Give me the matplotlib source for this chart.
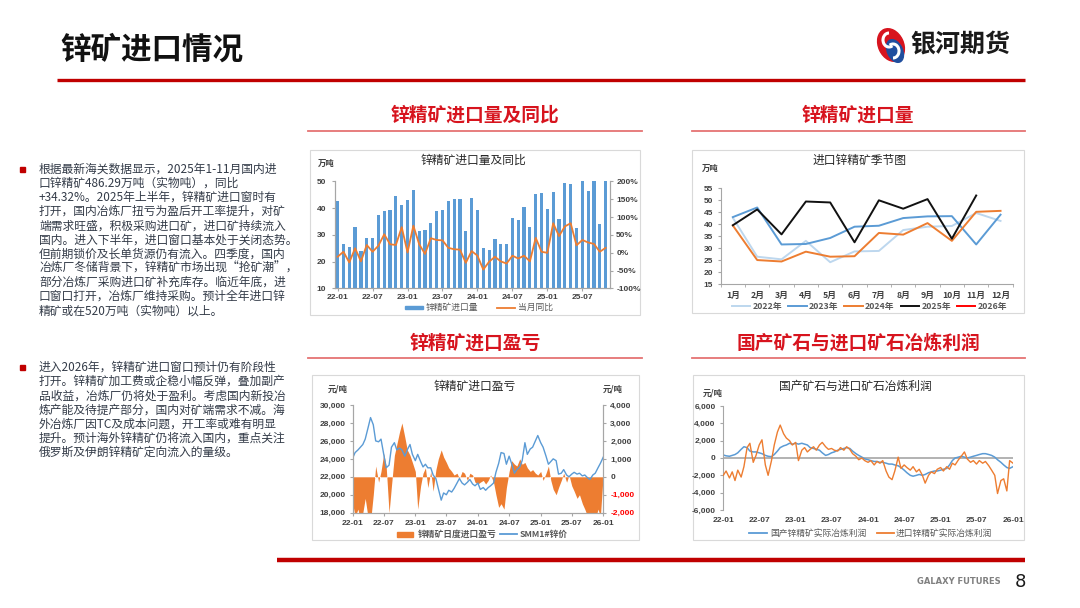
import pandas as pd
import matplotlib
matplotlib.use('Agg')
import matplotlib.pyplot as plt
from matplotlib.patches import Rectangle, Ellipse, Arc
from matplotlib.ticker import FuncFormatter

plt.rcParams['font.family'] = ['Noto Sans CJK SC', 'DejaVu Sans']
plt.rcParams['axes.unicode_minus'] = False

# ---- chart 1 / chart 2 data: monthly zinc concentrate imports (10k t) ----
imports_2022 = [42.7, 26.5, 25.4, 33.1, 24.2, 28.7, 28.9, 37.6, 39.0, 39.3, 44.7, 41.4]
imports_2023 = [43.0, 47.0, 31.6, 31.8, 34.3, 39.0, 39.4, 42.6, 43.3, 43.4, 31.6, 44.0]
imports_2024 = [39.5, 25.1, 24.5, 28.6, 26.5, 26.7, 36.4, 35.7, 40.5, 33.1, 45.2, 45.6]
imports_2025 = [39.6, 46.2, 35.8, 49.5, 49.1, 32.5, 50.0, 46.5, 50.5, 34.0, 52.0]
imports_2026 = []

# year-on-year change (%), 22-01 .. 25-11
yoy = [-11, 3, -27, 13, -24, 22, 3, 20, 52, 24, 22, 72,
       1, 76, 24, -3, 41, 36, 35, 14, 10, 9, -28, 5,
       -8, -47, -25, -11, -24, -30, -8, -16, -8, -24, 42, 3,
       0, 83, 47, 74, 83, 21, 36, 29, 25, 3, 14]

month_ticks1 = ['22-01', '22-07', '23-01', '23-07', '24-01', '24-07', '25-01', '25-07']
season_months = ['1月', '2月', '3月', '4月', '5月', '6月', '7月', '8月', '9月', '10月', '11月', '12月']

# ---- chart 3 / chart 4 data: semi-monthly readings 2022-01-01 .. 2026-01-01 ----
zinc_price = [24100, 24700, 25000, 25300, 25600, 26200, 27500, 28600, 27800, 26000,
              25900, 26200, 24500, 23000, 23300, 25300, 25800, 25000, 25200, 25000,
              24300, 25000, 25600, 24500, 23800, 24500, 23700, 23100, 23400, 23000,
              23000, 22200, 21800, 20700, 19400, 20200, 20000, 20500, 20300, 20700,
              21300, 21800, 21300, 21100, 21400, 21700, 21200, 21000, 21300, 20600,
              20800, 20500, 20800, 21000, 21300, 22500, 23500, 24700, 24600, 23400,
              24300, 23500, 22400, 22800, 23100, 23800, 25800, 24500, 25100, 25300,
              26000, 26600, 25800, 25300, 24300, 23400, 23700, 24000, 23800, 22300,
              22400, 22800, 22200, 22000, 22300, 22500, 22300, 22400, 22100, 22200,
              21900, 21700, 22200, 22400, 23000, 23500, 24200]

import_margin = [-1500, -2200, -1800, -2500, -2000, -1200, -2300, -2500, -1000, 600,
                 -300, 300, 1300, 600, -2000, -500, 1200, 1800, 2500, 3000,
                 2200, 1500, 1200, 800, 300, -1800, -500, 200, 500, -600,
                 300, -800, 400, 1000, 1500, 1100, 800, 500, 300, 100,
                 200, -100, 300, 200, -200, 200, 100, -300, -400, -300,
                 -200, -400, -200, 100, -300, -1000, -1700, -1500, -1800, -600,
                 300, 900, 700, 600, 1000, 700, 800, 500, 300, 400,
                 200, 100, 300, -200, 200, 600, -200, -700, -1000, -600,
                 -200, 200, -300, 100, -500, -800, -1200, -1000, -1500, -1800,
                 -2200, -2500, -2000, -2400, -1800, -2200, 200]

domestic_profit = [350, 250, 200, 300, 400, 600, 1000, 1300, 1200, 800,
                   700, 700, 600, 500, 300, 200, 150, 400, 800, 1200,
                   1400, 1500, 1700, 1600, 1700, 1600, 1700, 1600, 1500, 1200,
                   1100, 1000, 900, 600, 300, 400, 600, 700, 900, 1000,
                   1100, 1200, 1100, 800, 500, 300, 100, -100, -200, -300,
                   -400, -400, -500, -500, -600, -700, -700, -800, -900, -1100,
                   -1400, -1700, -2000, -2100, -2000, -1900, -2000, -1900, -1700, -1600,
                   -1500, -1500, -1400, -1300, -1200, -800, -300, 0, 100, 200,
                   100, 0, 100, 200, 300, 400, 500, 500, 400, 300,
                   100, -200, -500, -800, -1100, -1200, -1000]

import_profit = [-2000, -1500, -2300, -1600, -2600, -1400, -2200, -1000, 1200, 1700,
                 -500, 300, 1500, 2100, -800, -2000, -300, 1500, 3000, 3800,
                 2800, 2300, 2000, 1500, 1800, -300, 900, 1200, 700, 1000,
                 1300, 900, 1500, 1800, 1300, 1000, 1100, 900, 800, 1200,
                 900, 1300, 1000, 500, 200, -200, 0, -300, -500, -300,
                 -800, -400, -600, -300, -1500, -2200, -2500, -1500, 100, -1200,
                 -800, -1100, -1400, -1000, -1600, -1300, -2000, -2900, -2000, -1600,
                 -1800, -1300, -1100, -1500, -1000, -1300, -600, -800, -200, 200,
                 700, -100, -500, -300, -700, -300, -600, -400, -900, -1400,
                 -2000, -4100, -2600, -2400, -3800, -300, -600]

date_ticks = ['2022-01-01', '2022-07-01', '2023-01-01', '2023-07-01', '2024-01-01',
              '2024-07-01', '2025-01-01', '2025-07-01', '2026-01-01']

BLUE = '#5B9BD5'
ORANGE = '#ED7D31'
RED = '#D7141E'
AXC = '#A6A6A6'
NUM = 'Liberation Sans'

W, H = 1080, 608
fig = plt.figure(figsize=(10.8, 6.08), dpi=100)
bg = fig.add_axes([0, 0, 1, 1], zorder=-5)
bg.set_xlim(0, W)
bg.set_ylim(H, 0)
bg.axis('off')


def add_ax(l, t, r, b):
    return fig.add_axes([l / W, 1 - b / H, (r - l) / W, (b - t) / H])


def num_labels(ax, axis='both'):
    lbls = []
    if axis in ('both', 'x'):
        lbls += ax.get_xticklabels()
    if axis in ('both', 'y'):
        lbls += ax.get_yticklabels()
    for l in lbls:
        l.set_fontfamily(NUM)
        l.set_fontweight('bold')
        l.set_fontsize(6)
        l.set_color('#404040')


def spines(ax, show):
    for s in ['left', 'right', 'top', 'bottom']:
        ax.spines[s].set_visible(s in show)
        ax.spines[s].set_color(AXC)
        ax.spines[s].set_linewidth(0.8)


# ---------------- page frame ----------------
bg.text(60, 50, '锌矿进口情况', fontsize=22, fontweight='bold', color='#111111', ha='left', va='center')
bg.plot([57, 1025], [80, 80], color='#C00000', lw=2.4, solid_capstyle='butt')

# logo
bg.add_patch(Ellipse((891, 45), 25, 34, angle=-25, color='#D7141E'))
bg.add_patch(Ellipse((895, 51), 15, 24, angle=-25, color='#1F4E9E'))
bg.add_patch(Arc((889, 40), 12, 14, angle=0, theta1=60, theta2=270, color='white', lw=2.2))
bg.add_patch(Arc((893, 51), 12, 14, angle=0, theta1=240, theta2=450, color='white', lw=2.2))
bg.text(910, 45, '银河期货', fontsize=18, fontweight='bold', color='#1a1a1a', ha='left', va='center')

# section headers
for cx, cy, s in [(475, 115, '锌精矿进口量及同比'), (858, 115, '锌精矿进口量'),
                  (475, 343, '锌精矿进口盈亏'), (858, 343, '国产矿石与进口矿石冶炼利润')]:
    bg.text(cx, cy, s, fontsize=13.5, fontweight='bold', color=RED, ha='center', va='center')
for y in [131, 358]:
    bg.plot([308, 642], [y, y], color='#E57373', lw=1.3)
    bg.plot([692, 1025], [y, y], color='#E57373', lw=1.3)

# chart frames
for l, t, r, b in [(310, 150, 640, 315), (692, 150, 1024, 313), (312, 375, 639, 540), (693, 375, 1024, 540)]:
    bg.add_patch(Rectangle((l, t), r - l, b - t, fill=False, edgecolor='#D9D9D9', lw=0.8))

# left text
para1 = ['根据最新海关数据显示，2025年1-11月国内进',
         '口锌精矿486.29万吨（实物吨），同比',
         '+34.32%。2025年上半年，锌精矿进口窗时有',
         '打开，国内冶炼厂扭亏为盈后开工率提升，对矿',
         '端需求旺盛，积极采购进口矿，进口矿持续流入',
         '国内。进入下半年，进口窗口基本处于关闭态势。',
         '但前期锁价及长单货源仍有流入。四季度，国内',
         '冶炼厂冬储背景下，锌精矿市场出现“抢矿潮”，',
         '部分冶炼厂采购进口矿补充库存。临近年底，进',
         '口窗口打开，冶炼厂维持采购。预计全年进口锌',
         '精矿或在520万吨（实物吨）以上。']
para2 = ['进入2026年，锌精矿进口窗口预计仍有阶段性',
         '打开。锌精矿加工费或企稳小幅反弹，叠加副产',
         '品收益，冶炼厂仍将处于盈利。考虑国内新投冶',
         '炼产能及待提产部分，国内对矿端需求不减。海',
         '外冶炼厂因TC及成本问题，开工率或难有明显',
         '提升。预计海外锌精矿仍将流入国内，重点关注',
         '俄罗斯及伊朗锌精矿定向流入的量级。']
for y0, lines in [(169, para1), (367.3, para2)]:
    bg.add_patch(Rectangle((20, y0 - 2.5), 5, 5, color='#C00000'))
    for i, s in enumerate(lines):
        bg.text(39, y0 + i * 14.17, s, fontsize=8.5, color='#333B48', ha='left', va='center')

# footer
bg.plot([277, 1025], [560, 560], color='#C00000', lw=3.2, solid_capstyle='butt')
bg.text(959, 582, 'GALAXY FUTURES', fontsize=6, fontweight='bold', color='#808080', ha='center', va='center',
        family='DejaVu Sans')
bg.text(1020, 582, '8', fontsize=13, color='#1a1a1a', ha='center', va='center', family='DejaVu Sans')

# ---------------- chart 1: imports + yoy ----------------
imports = imports_2022 + imports_2023 + imports_2024 + imports_2025
x1 = list(range(len(imports)))
ax1 = add_ax(335, 181.5, 610, 288.5)
ax1.bar(x1, imports, width=0.55, color=BLUE, zorder=2)
ax1.set_ylim(10, 50)
ax1.set_yticks([10, 20, 30, 40, 50])
ax1.set_xlim(-0.45, 46.75)
ax1.set_xticks(range(0, 48, 6))
ax1.set_xticklabels(month_ticks1)
spines(ax1, ['left', 'bottom', 'right'])
ax1.tick_params(axis='y', length=2.5, color=AXC, pad=4)
ax1.tick_params(axis='x', length=2.5, color=AXC, pad=1.5)
num_labels(ax1)
ax1r = ax1.twinx()
ax1r.plot(x1, yoy, color=ORANGE, lw=1.3, zorder=3)
ax1r.set_ylim(-100, 200)
ax1r.set_yticks(range(-100, 201, 50))
ax1r.yaxis.set_major_formatter(FuncFormatter(lambda v, p: f'{v:.0f}%'))
spines(ax1r, ['left', 'bottom', 'right'])
ax1r.tick_params(axis='y', length=2.5, color=AXC, pad=2)
num_labels(ax1r, 'y')
bg.text(473, 160, '锌精矿进口量及同比', fontsize=8.5, color='#262626', ha='center', va='center')
bg.text(326, 163, '万吨', fontsize=6, fontweight='bold', color='#404040', ha='center', va='center')
bg.add_patch(Rectangle((405, 306), 18, 3, color=BLUE))
bg.text(426, 307.5, '锌精矿进口量', fontsize=6.3, color='#595959', ha='left', va='center')
bg.plot([497, 515], [307.5, 307.5], color=ORANGE, lw=1.3)
bg.text(518, 307.5, '当月同比', fontsize=6.3, color='#595959', ha='left', va='center')

# ---------------- chart 2: seasonal ----------------
ax2 = add_ax(720.7, 188.3, 1012.7, 284.3)
season = [(imports_2022, '#BDD7EE', '2022年'), (imports_2023, '#5B9BD5', '2023年'),
          (imports_2024, ORANGE, '2024年'), (imports_2025, '#111111', '2025年'),
          (imports_2026, '#FF0000', '2026年')]
for vals, c, lab in season:
    ax2.plot(range(len(vals)), vals, color=c, lw=1.4)
ax2.set_xlim(-0.5, 11.5)
ax2.set_ylim(15, 55)
ax2.set_yticks(range(15, 56, 5))
ax2.set_xticks(range(12))
ax2.set_xticklabels(season_months)
ax2.set_xticks([i - 0.5 for i in range(13)], minor=True)
spines(ax2, ['left', 'bottom'])
ax2.tick_params(axis='y', length=2.5, color=AXC, pad=3)
ax2.tick_params(axis='x', which='major', length=0, pad=5)
ax2.tick_params(axis='x', which='minor', length=2.5, color=AXC)
num_labels(ax2, 'y')
for l in ax2.get_xticklabels():
    l.set_fontsize(6.3)
    l.set_fontweight('bold')
    l.set_color('#404040')
bg.text(860, 160, '进口锌精矿季节图', fontsize=8.5, color='#262626', ha='center', va='center')
bg.text(710, 168, '万吨', fontsize=6, fontweight='bold', color='#404040', ha='center', va='center')
for (vals, c, lab), lx in zip(season, [731.7, 788, 844, 900.7, 956.7]):
    bg.plot([lx, lx + 18.5], [306, 306], color=c, lw=1.4)
    bg.text(lx + 20.5, 306, lab, fontsize=6.3, fontweight='bold', color='#595959', ha='left', va='center')

# ---------------- chart 3: import margin vs SMM price ----------------
dates = pd.date_range('2022-01-01', periods=len(zinc_price), freq='SMS')
ticks = pd.to_datetime(date_ticks)
tick_labels = [d.strftime('%y-%m') for d in ticks]

ax3 = add_ax(352.7, 405, 603.3, 512.7)
ax3r = ax3.twinx()
ax3r.fill_between(dates, 0, import_margin, color=ORANGE, lw=0)
ax3r.set_ylim(-2000, 4000)
r_ticks = list(range(-2000, 4001, 1000))
ax3r.set_yticks(r_ticks)
ax3r.set_yticklabels([f'{t:,}' for t in r_ticks])
ax3.plot(dates, zinc_price, color=BLUE, lw=1.0)
ax3.set_zorder(ax3r.get_zorder() + 1)
ax3.patch.set_visible(False)
ax3.set_ylim(18000, 30000)
ax3.set_yticks(range(18000, 30001, 2000))
ax3.yaxis.set_major_formatter(FuncFormatter(lambda v, p: f'{v:,.0f}'))
ax3.set_xlim(dates[0], dates[-1])
ax3.set_xticks(ticks)
ax3.set_xticklabels(tick_labels)
for a in (ax3, ax3r):
    spines(a, ['left', 'bottom', 'right'])
    a.tick_params(axis='both', length=2.5, color=AXC, pad=2.5)
num_labels(ax3)
num_labels(ax3r, 'y')
for t, l in zip(r_ticks, ax3r.get_yticklabels()):
    if t < 0:
        l.set_color('#FF0000')
bg.text(475, 386, '锌精矿进口盈亏', fontsize=8.5, color='#262626', ha='center', va='center')
bg.text(338, 389, '元/吨', fontsize=6, fontweight='bold', color='#404040', ha='center', va='center')
bg.text(613, 389, '元/吨', fontsize=6, fontweight='bold', color='#404040', ha='center', va='center')
bg.add_patch(Rectangle((397, 531.5), 16, 5, color=ORANGE))
bg.text(418, 534, '锌精矿日度进口盈亏', fontsize=6.3, fontweight='bold', color='#595959', ha='left', va='center')
bg.plot([500, 517], [534, 534], color=BLUE, lw=1.3)
bg.text(520, 534, 'SMM1#锌价', fontsize=6.3, fontweight='bold', color='#595959', ha='left', va='center')

# ---------------- chart 4: smelting profit ----------------
ax4 = add_ax(723.3, 406, 1013, 510)
ax4.axhline(0, color=AXC, lw=1.2, zorder=1)
ax4.plot(dates, domestic_profit, color=BLUE, lw=1.1, zorder=2)
ax4.plot(dates, import_profit, color=ORANGE, lw=1.0, zorder=3)
ax4.set_ylim(-6000, 6000)
ax4.set_yticks(range(-6000, 6001, 2000))
ax4.yaxis.set_major_formatter(FuncFormatter(lambda v, p: f'{v:,.0f}'))
ax4.set_xlim(dates[0], dates[-1])
ax4.set_xticks(ticks)
ax4.set_xticklabels(tick_labels)
spines(ax4, ['left'])
ax4.tick_params(axis='y', length=2.5, color=AXC, pad=3)
ax4.tick_params(axis='x', length=0, pad=5)
num_labels(ax4)
bg.text(855, 386, '国产矿石与进口矿石冶炼利润', fontsize=8.5, color='#262626', ha='center', va='center')
bg.text(713, 393, '元/吨', fontsize=6, fontweight='bold', color='#404040', ha='center', va='center')
bg.plot([749, 767], [533, 533], color=BLUE, lw=1.3)
bg.text(770, 533, '国产锌精矿实际冶炼利润', fontsize=6.3, color='#595959', ha='left', va='center')
bg.plot([877, 894], [533, 533], color=ORANGE, lw=1.3)
bg.text(896, 533, '进口锌精矿实际冶炼利润', fontsize=6.3, color='#595959', ha='left', va='center')

fig.savefig('out.png', dpi=100, facecolor='white')
